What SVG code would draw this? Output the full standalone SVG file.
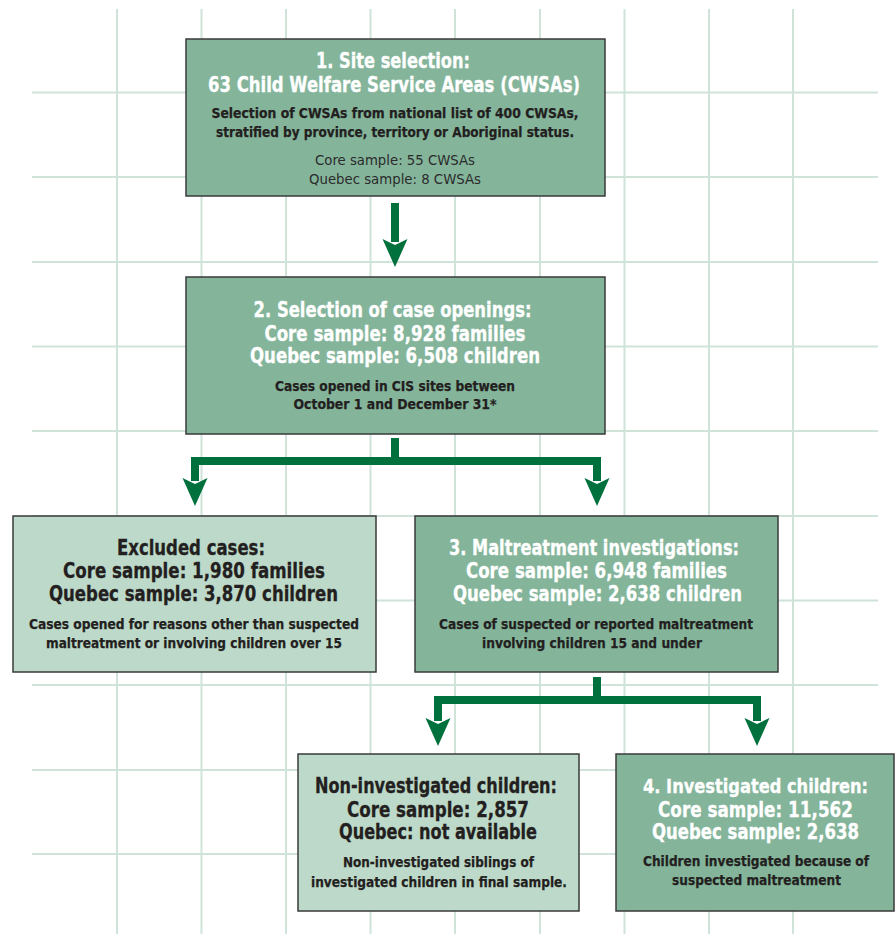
<svg xmlns="http://www.w3.org/2000/svg" width="895" height="934" viewBox="0 0 895 934">
<style>
.grid{stroke:#cfe3d8;stroke-width:2;fill:none}
.dark{fill:#84b59b;stroke:#3a3a3a;stroke-width:1.5}
.light{fill:#bdd9c9;stroke:#3a3a3a;stroke-width:1.5}
text{font-family:"Liberation Sans Narrow","DejaVu Sans Condensed","Liberation Sans",sans-serif;text-anchor:middle;font-weight:bold}
.t{font-size:20.5px}
.w{fill:#ffffff;stroke:#ffffff;stroke-width:0.3}
.k{fill:#231f20;stroke:#231f20;stroke-width:0.3}
.s{font-size:14.5px;fill:#231f20;stroke:#231f20;stroke-width:0.25}
.r{font-size:14.5px;font-weight:normal;fill:#2b2b2b}
.conn{fill:none;stroke:#00703c;stroke-width:8;stroke-linejoin:miter}
</style>
<defs>
<marker id="ah" markerUnits="userSpaceOnUse" markerWidth="30" markerHeight="28" viewBox="0 -14 30 28" refX="3" refY="0" orient="auto">
<path d="M0,-12.5 L28,0 L0,12.5 L6,0 z" fill="#00703c"/>
</marker>
</defs>
<rect width="895" height="934" fill="#ffffff"/>
<g id="grid" class="grid">
<path d="M117,9V934M201.5,9V934M286,9V934M370.5,9V934M455,9V934M540,9V934M624.5,9V934M709,9V934M793,9V934"/>
<path d="M32,92.5H878M32,177H878M32,262H878M32,346.5H878M32,431H878M32,516H878M32,600.5H878M32,685H878M32,770H878M32,854H878"/>
</g>
<g id="connectors">
<path class="conn" d="M395,203V242" marker-end="url(#ah)"/>
<path class="conn" d="M395,438V461H195V481" marker-end="url(#ah)"/>
<path class="conn" d="M395,461H597V481" marker-end="url(#ah)"/>
<path class="conn" d="M597,677V700H438V721" marker-end="url(#ah)"/>
<path class="conn" d="M597,700H757V721" marker-end="url(#ah)"/>
</g>
<g id="node1">
<rect class="dark" x="186" y="39" width="419" height="157"/>
<text class="t w" x="393" y="68" textLength="154" lengthAdjust="spacingAndGlyphs">1. Site selection:</text>
<text class="t w" x="394" y="92" textLength="372" lengthAdjust="spacingAndGlyphs">63 Child Welfare Service Areas (CWSAs)</text>
<text class="s" x="395" y="118" textLength="367" lengthAdjust="spacingAndGlyphs">Selection of CWSAs from national list of 400 CWSAs,</text>
<text class="s" x="395" y="137" textLength="358" lengthAdjust="spacingAndGlyphs">stratified by province, territory or Aboriginal status.</text>
<text class="r" x="395" y="165" textLength="160" lengthAdjust="spacingAndGlyphs">Core sample: 55 CWSAs</text>
<text class="r" x="395" y="184" textLength="172" lengthAdjust="spacingAndGlyphs">Quebec sample: 8 CWSAs</text>
</g>
<g id="node2">
<rect class="dark" x="186" y="277" width="419" height="157"/>
<text class="t w" x="392.5" y="317" textLength="278" lengthAdjust="spacingAndGlyphs">2. Selection of case openings:</text>
<text class="t w" x="395" y="341" textLength="261" lengthAdjust="spacingAndGlyphs">Core sample: 8,928 families</text>
<text class="t w" x="395" y="363" textLength="290" lengthAdjust="spacingAndGlyphs">Quebec sample: 6,508 children</text>
<text class="s" x="395" y="391" textLength="240" lengthAdjust="spacingAndGlyphs">Cases opened in CIS sites between</text>
<text class="s" x="395" y="409" textLength="203" lengthAdjust="spacingAndGlyphs">October 1 and December 31*</text>
</g>
<g id="excluded">
<rect class="light" x="13" y="516" width="363" height="156"/>
<text class="t k" x="191" y="555" textLength="148" lengthAdjust="spacingAndGlyphs">Excluded cases:</text>
<text class="t k" x="194" y="578" textLength="262" lengthAdjust="spacingAndGlyphs">Core sample: 1,980 families</text>
<text class="t k" x="193.5" y="601" textLength="289" lengthAdjust="spacingAndGlyphs">Quebec sample: 3,870 children</text>
<text class="s" x="194" y="629" textLength="330" lengthAdjust="spacingAndGlyphs">Cases opened for reasons other than suspected</text>
<text class="s" x="194" y="648" textLength="296" lengthAdjust="spacingAndGlyphs">maltreatment or involving children over 15</text>
</g>
<g id="node3">
<rect class="dark" x="415" y="516" width="363" height="156"/>
<text class="t w" x="594" y="555" textLength="290" lengthAdjust="spacingAndGlyphs">3. Maltreatment investigations:</text>
<text class="t w" x="596.5" y="578" textLength="261" lengthAdjust="spacingAndGlyphs">Core sample: 6,948 families</text>
<text class="t w" x="597.5" y="601" textLength="289" lengthAdjust="spacingAndGlyphs">Quebec sample: 2,638 children</text>
<text class="s" x="596" y="629" textLength="314" lengthAdjust="spacingAndGlyphs">Cases of suspected or reported maltreatment</text>
<text class="s" x="592" y="648" textLength="220" lengthAdjust="spacingAndGlyphs">involving children 15 and under</text>
</g>
<g id="noninvestigated">
<rect class="light" x="298" y="754" width="281" height="157"/>
<text class="t k" x="436" y="793" textLength="242" lengthAdjust="spacingAndGlyphs">Non-investigated children:</text>
<text class="t k" x="438" y="817" textLength="182" lengthAdjust="spacingAndGlyphs">Core sample: 2,857</text>
<text class="t k" x="438" y="839" textLength="198" lengthAdjust="spacingAndGlyphs">Quebec: not available</text>
<text class="s" x="438.5" y="867" textLength="191" lengthAdjust="spacingAndGlyphs">Non-investigated siblings of</text>
<text class="s" x="439" y="887" textLength="256" lengthAdjust="spacingAndGlyphs">investigated children in final sample.</text>
</g>
<g id="node4">
<rect class="dark" x="616" y="754" width="278" height="157"/>
<text class="t w" x="755.5" y="793" style="font-size:19.5px" textLength="225" lengthAdjust="spacingAndGlyphs">4. Investigated children:</text>
<text class="t w" x="755.5" y="817" textLength="195" lengthAdjust="spacingAndGlyphs">Core sample: 11,562</text>
<text class="t w" x="755.5" y="839" textLength="207" lengthAdjust="spacingAndGlyphs">Quebec sample: 2,638</text>
<text class="s" x="756" y="866" textLength="226" lengthAdjust="spacingAndGlyphs">Children investigated because of</text>
<text class="s" x="756.5" y="885" textLength="169" lengthAdjust="spacingAndGlyphs">suspected maltreatment</text>
</g>
</svg>
